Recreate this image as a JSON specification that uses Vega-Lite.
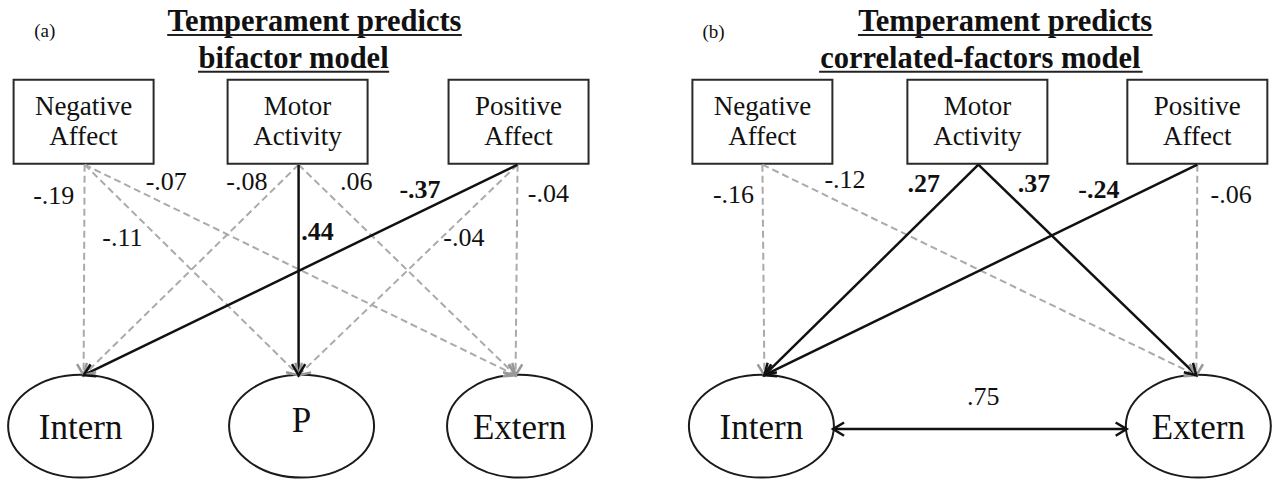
{
  "$schema": "https://vega.github.io/schema/vega-lite/v6.json",
  "width": 1275,
  "height": 482,
  "autosize": {"type": "fit", "contains": "padding"},
  "padding": 0,
  "background": "white",
  "config": {"view": {"stroke": null}, "text": {"font": "Liberation Serif", "color": "#111"}},
  "datasets": {
    "nodes": [
      {"panel": "a", "id": "a-NA", "label": "Negative\nAffect", "kind": "box", "x": 84, "y": 122},
      {"panel": "a", "id": "a-MA", "label": "Motor\nActivity", "kind": "box", "x": 299, "y": 122},
      {"panel": "a", "id": "a-PA", "label": "Positive\nAffect", "kind": "box", "x": 521, "y": 122},
      {"panel": "b", "id": "b-NA", "label": "Negative\nAffect", "kind": "box", "x": 766, "y": 122},
      {"panel": "b", "id": "b-MA", "label": "Motor\nActivity", "kind": "box", "x": 982, "y": 122},
      {"panel": "b", "id": "b-PA", "label": "Positive\nAffect", "kind": "box", "x": 1203, "y": 122},
      {"panel": "a", "id": "a-Intern", "label": "Intern", "kind": "factor", "x": 81, "y": 427},
      {"panel": "a", "id": "a-P", "label": "P", "kind": "factor", "x": 303, "y": 427},
      {"panel": "a", "id": "a-Extern", "label": "Extern", "kind": "factor", "x": 522, "y": 427},
      {"panel": "b", "id": "b-Intern", "label": "Intern", "kind": "factor", "x": 765, "y": 427},
      {"panel": "b", "id": "b-Extern", "label": "Extern", "kind": "factor", "x": 1204, "y": 427}
    ],
    "edges": [
      {"panel": "a", "from": "Negative Affect", "to": "Intern", "coef": "-.19", "sig": false, "type": "path", "x1": 85, "y1": 165, "x2": 84, "y2": 376, "lx": 54, "ly": 204},
      {"panel": "a", "from": "Negative Affect", "to": "P", "coef": "-.11", "sig": false, "type": "path", "x1": 85, "y1": 165, "x2": 300, "y2": 376, "lx": 123, "ly": 247},
      {"panel": "a", "from": "Negative Affect", "to": "Extern", "coef": "-.07", "sig": false, "type": "path", "x1": 85, "y1": 165, "x2": 518, "y2": 376, "lx": 167, "ly": 190},
      {"panel": "a", "from": "Motor Activity", "to": "Intern", "coef": "-.08", "sig": false, "type": "path", "x1": 300, "y1": 165, "x2": 84, "y2": 376, "lx": 248, "ly": 190},
      {"panel": "a", "from": "Motor Activity", "to": "P", "coef": ".44", "sig": true, "type": "path", "x1": 300, "y1": 165, "x2": 300, "y2": 376, "lx": 319, "ly": 240},
      {"panel": "a", "from": "Motor Activity", "to": "Extern", "coef": ".06", "sig": false, "type": "path", "x1": 300, "y1": 165, "x2": 518, "y2": 376, "lx": 358, "ly": 190},
      {"panel": "a", "from": "Positive Affect", "to": "Intern", "coef": "-.37", "sig": true, "type": "path", "x1": 520, "y1": 165, "x2": 84, "y2": 376, "lx": 422, "ly": 198},
      {"panel": "a", "from": "Positive Affect", "to": "P", "coef": "-.04", "sig": false, "type": "path", "x1": 520, "y1": 165, "x2": 300, "y2": 376, "lx": 466, "ly": 247},
      {"panel": "a", "from": "Positive Affect", "to": "Extern", "coef": "-.04", "sig": false, "type": "path", "x1": 520, "y1": 165, "x2": 518, "y2": 376, "lx": 551, "ly": 202},
      {"panel": "b", "from": "Negative Affect", "to": "Intern", "coef": "-.16", "sig": false, "type": "path", "x1": 766, "y1": 165, "x2": 768, "y2": 376, "lx": 737, "ly": 203},
      {"panel": "b", "from": "Negative Affect", "to": "Extern", "coef": "-.12", "sig": false, "type": "path", "x1": 766, "y1": 165, "x2": 1202, "y2": 376, "lx": 849, "ly": 188},
      {"panel": "b", "from": "Motor Activity", "to": "Intern", "coef": ".27", "sig": true, "type": "path", "x1": 983, "y1": 165, "x2": 768, "y2": 376, "lx": 928, "ly": 192},
      {"panel": "b", "from": "Motor Activity", "to": "Extern", "coef": ".37", "sig": true, "type": "path", "x1": 983, "y1": 165, "x2": 1202, "y2": 376, "lx": 1039, "ly": 192},
      {"panel": "b", "from": "Positive Affect", "to": "Intern", "coef": "-.24", "sig": true, "type": "path", "x1": 1203, "y1": 165, "x2": 768, "y2": 376, "lx": 1104, "ly": 198},
      {"panel": "b", "from": "Positive Affect", "to": "Extern", "coef": "-.06", "sig": false, "type": "path", "x1": 1203, "y1": 165, "x2": 1202, "y2": 376, "lx": 1237, "ly": 203},
      {"panel": "b", "from": "Intern", "to": "Extern", "coef": ".75", "sig": false, "type": "correlation", "x1": 837, "y1": 430, "x2": 1132, "y2": 430, "lx": 988, "ly": 406}
    ],
    "titles": [
      {"panel": "a", "text": "(a)", "kind": "tag", "x": 45, "y": 37},
      {"panel": "a", "text": "Temperament predicts", "kind": "title", "x": 316, "y": 31},
      {"panel": "a", "text": "bifactor model", "kind": "title", "x": 295, "y": 68},
      {"panel": "b", "text": "(b)", "kind": "tag", "x": 717, "y": 38},
      {"panel": "b", "text": "Temperament predicts", "kind": "title", "x": 1010, "y": 31},
      {"panel": "b", "text": "correlated-factors model", "kind": "title", "x": 985, "y": 68}
    ],
    "underlines": [
      {"panel": "a", "x": 168, "x2": 464, "y": 35},
      {"panel": "a", "x": 199, "x2": 391, "y": 72},
      {"panel": "b", "x": 862, "x2": 1158, "y": 35},
      {"panel": "b", "x": 823, "x2": 1148, "y": 72}
    ]
  },
  "layer": [
    {
      "data": {"name": "nodes"},
      "transform": [{"filter": "datum.kind === 'box'"}],
      "mark": {"type": "point", "shape": "M-1,-0.6H1V0.6H-1Z", "size": 19600, "fill": "white", "stroke": "#2a2a2a", "strokeWidth": 2, "opacity": 1, "filled": true},
      "encoding": {
        "x": {"field": "x", "type": "quantitative", "scale": {"domain": [0, 1275], "nice": false, "zero": false}, "axis": null},
        "y": {"field": "y", "type": "quantitative", "scale": {"domain": [0, 482], "nice": false, "zero": false, "reverse": true}, "axis": null}
      }
    },
    {
      "data": {"name": "nodes"},
      "transform": [{"filter": "datum.kind === 'factor'"}],
      "mark": {"type": "point", "shape": "M-1,0C-1,-0.392 -0.5523,-0.71 0,-0.71C0.5523,-0.71 1,-0.392 1,0C1,0.392 0.5523,0.71 0,0.71C-0.5523,0.71 -1,0.392 -1,0Z", "size": 21025, "fill": "white", "stroke": "#1a1a1a", "strokeWidth": 2, "opacity": 1, "filled": true},
      "encoding": {
        "x": {"field": "x", "type": "quantitative", "axis": null},
        "y": {"field": "y", "type": "quantitative", "axis": null}
      }
    },
    {
      "data": {"name": "edges"},
      "transform": [{"filter": "!datum.sig && datum.type === 'path'"}],
      "mark": {"type": "rule", "color": "#aaaaaa", "strokeWidth": 2, "strokeDash": [7, 4]},
      "encoding": {
        "x": {"field": "x1", "type": "quantitative"},
        "y": {"field": "y1", "type": "quantitative"},
        "x2": {"field": "x2"},
        "y2": {"field": "y2"}
      }
    },
    {
      "data": {"name": "edges"},
      "transform": [{"filter": "datum.sig || datum.type === 'correlation'"}],
      "mark": {"type": "rule", "color": "#111111", "strokeWidth": 2.5},
      "encoding": {
        "x": {"field": "x1", "type": "quantitative"},
        "y": {"field": "y1", "type": "quantitative"},
        "x2": {"field": "x2"},
        "y2": {"field": "y2"}
      }
    },
    {
      "data": {"name": "edges"},
      "transform": [
        {"filter": "!datum.sig && datum.type === 'path'"},
        {"calculate": "atan2(-(datum.x2 - datum.x1), datum.y2 - datum.y1) * 180 / PI", "as": "ang"}
      ],
      "mark": {"type": "point", "shape": "M-0.6,-1L0,0L0.6,-1", "size": 484, "filled": false, "color": "#999999", "strokeWidth": 2.5, "opacity": 1},
      "encoding": {
        "x": {"field": "x2", "type": "quantitative"},
        "y": {"field": "y2", "type": "quantitative"},
        "angle": {"field": "ang", "type": "quantitative", "scale": null}
      }
    },
    {
      "data": {"name": "edges"},
      "transform": [
        {"filter": "datum.sig || datum.type === 'correlation'"},
        {"calculate": "atan2(-(datum.x2 - datum.x1), datum.y2 - datum.y1) * 180 / PI", "as": "ang"}
      ],
      "mark": {"type": "point", "shape": "M-0.6,-1L0,0L0.6,-1", "size": 484, "filled": false, "color": "#111111", "strokeWidth": 2.5, "opacity": 1},
      "encoding": {
        "x": {"field": "x2", "type": "quantitative"},
        "y": {"field": "y2", "type": "quantitative"},
        "angle": {"field": "ang", "type": "quantitative", "scale": null}
      }
    },
    {
      "data": {"name": "edges"},
      "transform": [
        {"filter": "datum.type === 'correlation'"},
        {"calculate": "atan2(-(datum.x1 - datum.x2), datum.y1 - datum.y2) * 180 / PI", "as": "ang"}
      ],
      "mark": {"type": "point", "shape": "M-0.6,-1L0,0L0.6,-1", "size": 484, "filled": false, "color": "#111111", "strokeWidth": 2.5, "opacity": 1},
      "encoding": {
        "x": {"field": "x1", "type": "quantitative"},
        "y": {"field": "y1", "type": "quantitative"},
        "angle": {"field": "ang", "type": "quantitative", "scale": null}
      }
    },
    {
      "data": {"name": "nodes"},
      "transform": [{"filter": "datum.kind === 'box'"}],
      "mark": {"type": "text", "fontSize": 27, "align": "center", "baseline": "alphabetic", "lineBreak": "\n", "lineHeight": 30, "dy": -7},
      "encoding": {
        "x": {"field": "x", "type": "quantitative"},
        "y": {"field": "y", "type": "quantitative"},
        "text": {"field": "label"}
      }
    },
    {
      "data": {"name": "nodes"},
      "transform": [{"filter": "datum.kind === 'factor' && datum.label !== 'P'"}],
      "mark": {"type": "text", "fontSize": 35, "align": "center", "baseline": "alphabetic", "dy": 13},
      "encoding": {
        "x": {"field": "x", "type": "quantitative"},
        "y": {"field": "y", "type": "quantitative"},
        "text": {"field": "label"}
      }
    },
    {
      "data": {"name": "nodes"},
      "transform": [{"filter": "datum.label === 'P'"}],
      "mark": {"type": "text", "fontSize": 35, "align": "center", "baseline": "alphabetic", "dy": 6},
      "encoding": {
        "x": {"field": "x", "type": "quantitative"},
        "y": {"field": "y", "type": "quantitative"},
        "text": {"field": "label"}
      }
    },
    {
      "data": {"name": "edges"},
      "transform": [{"filter": "!datum.sig"}],
      "mark": {"type": "text", "fontSize": 26, "align": "center", "baseline": "alphabetic"},
      "encoding": {
        "x": {"field": "lx", "type": "quantitative"},
        "y": {"field": "ly", "type": "quantitative"},
        "text": {"field": "coef"}
      }
    },
    {
      "data": {"name": "edges"},
      "transform": [{"filter": "datum.sig"}],
      "mark": {"type": "text", "fontSize": 26, "fontWeight": "bold", "align": "center", "baseline": "alphabetic"},
      "encoding": {
        "x": {"field": "lx", "type": "quantitative"},
        "y": {"field": "ly", "type": "quantitative"},
        "text": {"field": "coef"}
      }
    },
    {
      "data": {"name": "titles"},
      "transform": [{"filter": "datum.kind === 'title'"}],
      "mark": {"type": "text", "fontSize": 30.5, "fontWeight": "bold", "align": "center", "baseline": "alphabetic"},
      "encoding": {
        "x": {"field": "x", "type": "quantitative"},
        "y": {"field": "y", "type": "quantitative"},
        "text": {"field": "text"}
      }
    },
    {
      "data": {"name": "titles"},
      "transform": [{"filter": "datum.kind === 'tag'"}],
      "mark": {"type": "text", "fontSize": 19, "align": "center", "baseline": "alphabetic"},
      "encoding": {
        "x": {"field": "x", "type": "quantitative"},
        "y": {"field": "y", "type": "quantitative"},
        "text": {"field": "text"}
      }
    },
    {
      "data": {"name": "underlines"},
      "mark": {"type": "rule", "color": "#222222", "strokeWidth": 2},
      "encoding": {
        "x": {"field": "x", "type": "quantitative"},
        "x2": {"field": "x2"},
        "y": {"field": "y", "type": "quantitative"}
      }
    }
  ]
}
